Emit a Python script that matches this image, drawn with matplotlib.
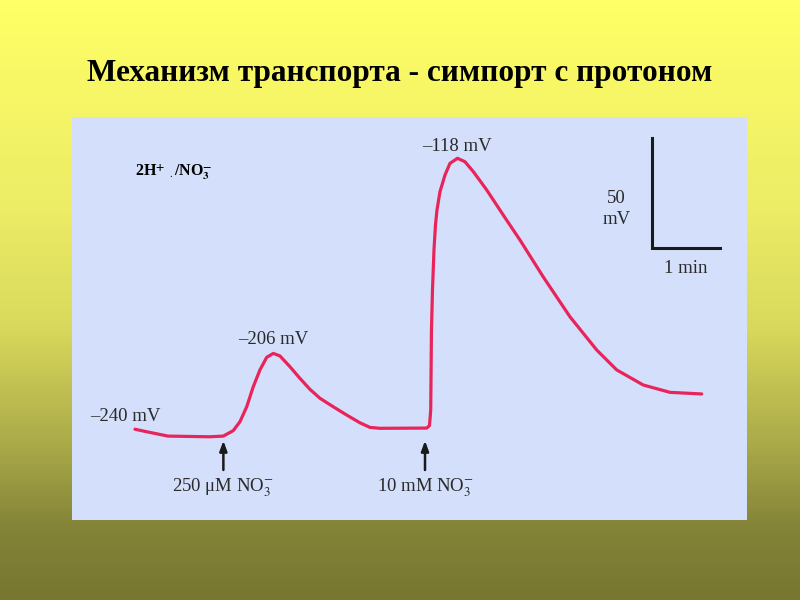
import numpy as np
import matplotlib
matplotlib.use("Agg")
import matplotlib.pyplot as plt
from matplotlib.colors import LinearSegmentedColormap

# ---- data (time in min, membrane potential in mV) ----
time_min = [0.0, 0.172, 0.485, 1.103, 1.299, 1.446, 1.544, 1.643, 1.740, 1.838,
            1.937, 2.034, 2.132, 2.279, 2.426, 2.574, 2.721, 2.916, 3.113, 3.309,
            3.456, 3.603, 4.290, 4.331, 4.349, 4.360, 4.375, 4.397, 4.419, 4.441,
            4.485, 4.559, 4.632, 4.743, 4.853, 4.975, 5.172, 5.416, 5.662, 6.004,
            6.397, 6.790, 7.084, 7.475, 7.868, 8.334]
potential_mv = [-236.6, -237.7, -239.6, -239.9, -239.6, -237.2, -233.3, -226.8,
                -218.0, -210.7, -205.2, -203.5, -204.6, -209.3, -214.4, -219.2,
                -223.1, -226.8, -230.4, -233.8, -235.8, -236.2, -236.1, -235.0,
                -228.2, -193.3, -175.8, -158.3, -147.4, -140.9, -132.9, -125.6,
                -120.5, -118.3, -119.8, -124.1, -132.1, -143.1, -154.0, -170.1,
                -187.5, -202.0, -210.7, -217.3, -220.5, -221.2]

addition_times = [1.30, 4.265]
addition_labels = ["250 μM NO$_3^{-}$", "10 mM NO$_3^{-}$"]

value_labels = ["–240 mV", "–206 mV", "–118 mV"]
value_label_pos = [(-0.147, -231.1), (2.04, -197.3), (4.73, -113.2)]

title = "Механизм транспорта - симпорт с протоном"

plt.rcParams['mathtext.fontset'] = 'stix'
serif = ['Liberation Serif', 'DejaVu Serif']

fig = plt.figure(figsize=(8, 6), dpi=100)

# background gradient
bg = fig.add_axes([0, 0, 1, 1], zorder=0)
cmap = LinearSegmentedColormap.from_list(
    "bg", [(0.0, "#FFFF66"), (0.35, "#ECEC66"), (0.55, "#D8D85C"),
           (0.75, "#A8A848"), (0.88, "#848438"), (1.0, "#777732")])
grad = np.linspace(0, 1, 300).reshape(-1, 1)
bg.imshow(grad, aspect='auto', cmap=cmap, extent=[0, 1, 1, 0])
bg.set_axis_off()

fig.text(0.5, 1 - 73 / 600, title, ha='center', va='center',
         fontsize=22.5, fontweight='bold', family=serif, color='black')

# panel axes
ax = fig.add_axes([72 / 800, 80 / 600, 675 / 800, 403 / 600], zorder=1)
ax.set_facecolor("#D4DFFB")
ax.set_xlim(-0.926, 9.0)
ax.set_ylim(-276.24, -100.26)
for s in ax.spines.values():
    s.set_visible(False)
ax.set_xticks([])
ax.set_yticks([])

ax.plot(time_min, potential_mv, color="#E8245A", lw=2.3,
        solid_joinstyle='round', solid_capstyle='round')

for t, lab in zip(addition_times, addition_labels):
    ax.annotate("", xy=(t, -241.6), xytext=(t, -254.4),
                arrowprops=dict(arrowstyle="-|>,head_length=0.6,head_width=0.22",
                                color="#1a1a1a", lw=1.8, shrinkA=0, shrinkB=0))
    ax.text(t, -262.3, lab, ha='center', va='center', fontsize=13.5,
            family=serif, color="#2a2a2a")

for lab, (x, y) in zip(value_labels, value_label_pos):
    ax.text(x, y, lab, ha='center', va='center', fontsize=13.5,
            family=serif, color="#2a2a2a")

# scale bar: 50 mV and 1 min
sb_x0, sb_y0 = (652 - 135) / 68, -240 + (437 - 248) / 2.29
ax.plot([sb_x0, sb_x0, sb_x0 + 1.0], [sb_y0 + 48.0, sb_y0, sb_y0],
        color="#1a1a1a", lw=2.2, solid_joinstyle='miter')
ax.text(7.08, -140.4, "50\nmV", ha='center', va='center', fontsize=13.5,
        family=serif, color="#2a2a2a", linespacing=1.25)
ax.text(8.10, -166.2, "1 min", ha='center', va='center', fontsize=13.5,
        family=serif, color="#2a2a2a")

ax.text(0.0, -124.0, r"2H$^{\mathbf{+}}$ $_{.}$/NO$_{\mathbf{3}}^{\mathbf{-}}$",
        ha='left', va='center', fontsize=11.5, fontweight='bold',
        family=serif, color='black')

fig.savefig("out.png", dpi=100)
